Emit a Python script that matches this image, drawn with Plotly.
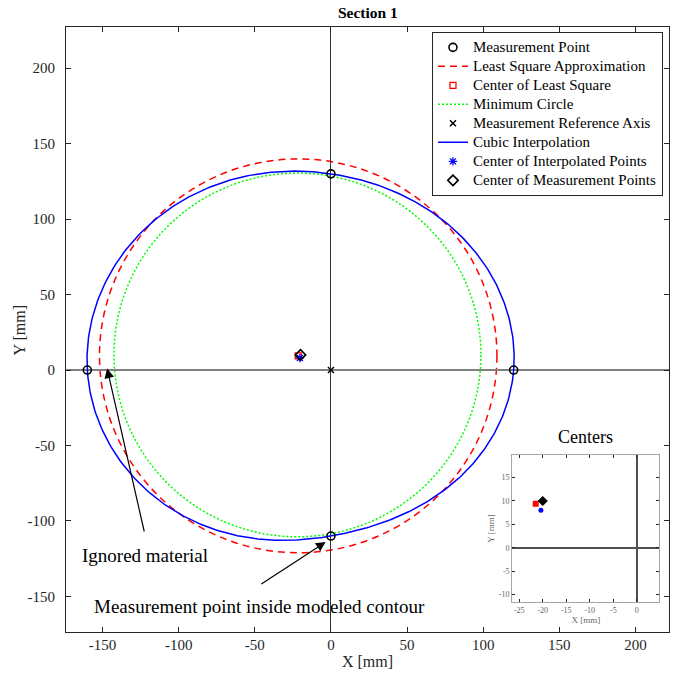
import numpy as np
import plotly.graph_objects as go

# ---------------- data ----------------
meas_x = [120, 0, -160, 0]          # measurement points [mm]
meas_y = [0, 130, 0, -110]

lsq_center_x = [-21.5]              # center of least square
lsq_center_y = [9.4]
lsq_radius = [130.5]

min_center_x = [-22.0]              # minimum circle
min_center_y = [10.0]
min_radius = [120.5]

interp_center_x = [-20.4]           # center of interpolated points
interp_center_y = [8.0]

meas_center_x = [-20.0]             # center of measurement points
meas_center_y = [10.0]

ref_x = [0]                          # measurement reference axis
ref_y = [0]

x_ticks = [-150, -100, -50, 0, 50, 100, 150, 200]
x_tick_labels = ["-150", "-100", "-50", "0", "50", "100", "150", "200"]
y_ticks = [-150, -100, -50, 0, 50, 100, 150, 200]
y_tick_labels = ["-150", "-100", "-50", "0", "50", "100", "150", "200"]
inset_x_ticks = [-25, -20, -15, -10, -5, 0]
inset_x_labels = ["-25", "-20", "-15", "-10", "-5", "0"]
inset_y_ticks = [-10, -5, 0, 5, 10, 15]
inset_y_labels = ["-10", "-5", "0", "5", "10", "15"]

# ------- cubic interpolation (periodic cubic spline of radius vs angle) -------
th = np.mod(np.arctan2(meas_y, meas_x), 2 * np.pi)
rr = np.hypot(meas_x, meas_y)
o = np.argsort(th)
th, rr = th[o], rr[o]
n = len(th)
h = np.diff(np.append(th, th[0] + 2 * np.pi))
A = np.zeros((n, n))
b = np.zeros(n)
for i in range(n):
    hp, hn = h[i - 1], h[i]
    A[i, (i - 1) % n] += hp
    A[i, i] += 2 * (hp + hn)
    A[i, (i + 1) % n] += hn
    b[i] = 6 * ((rr[(i + 1) % n] - rr[i]) / hn - (rr[i] - rr[i - 1]) / hp)
M = np.linalg.solve(A, b)
cx, cy = [], []
for i in range(n):
    hi = h[i]
    s = np.linspace(0, hi, 120, endpoint=False)
    j = (i + 1) % n
    S = (M[i] * (hi - s) ** 3 / (6 * hi) + M[j] * s ** 3 / (6 * hi)
         + (rr[i] / hi - M[i] * hi / 6) * (hi - s)
         + (rr[j] / hi - M[j] * hi / 6) * s)
    t = th[i] + s
    cx.extend(S * np.cos(t))
    cy.extend(S * np.sin(t))
cx.append(cx[0])
cy.append(cy[0])

FONT = "Liberation Serif, Times New Roman, serif"
DARK = "#262626"


def lg(name):
    # legend label drawn at 15px while the row spacing stays compact
    return '<span style="font-size:15px">' + name + "</span>"


fig = go.Figure()

fig.add_trace(go.Scatter(x=cx, y=cy, mode="lines", name="Cubic Interpolation",
                         line=dict(color="#0000FF", width=1.5), showlegend=False))
fig.add_trace(go.Scatter(x=meas_x, y=meas_y, mode="markers", name=lg("Measurement Point"),
                         marker=dict(symbol="circle-open", size=8, color="black",
                                     line=dict(width=1.6, color="black"))))
fig.add_trace(go.Scatter(x=[None], y=[None], mode="lines", name=lg("Least Square Approximation"),
                         line=dict(color="#FF0000", width=1.5, dash="7px,5px")))
fig.add_trace(go.Scatter(x=lsq_center_x, y=lsq_center_y, mode="markers", name=lg("Center of Least Square"),
                         marker=dict(symbol="square-open", size=6, color="#FF0000",
                                     line=dict(width=1.3, color="#FF0000"))))
fig.add_trace(go.Scatter(x=[None], y=[None], mode="lines", name=lg("Minimum Circle"),
                         line=dict(color="#00FF00", width=1.5, dash="2px,2px")))
fig.add_trace(go.Scatter(x=ref_x, y=ref_y, mode="markers", name=lg("Measurement Reference Axis"),
                         marker=dict(symbol="x-thin-open", size=6, color="black",
                                     line=dict(width=1.5, color="black"))))
fig.add_trace(go.Scatter(x=[None], y=[None], mode="lines", name=lg("Cubic Interpolation"),
                         line=dict(color="#0000FF", width=1.5)))
fig.add_trace(go.Scatter(x=interp_center_x, y=interp_center_y, mode="markers",
                         name=lg("Center of Interpolated Points"),
                         marker=dict(symbol="asterisk-open", size=7, color="#0000FF",
                                     line=dict(width=1.3, color="#0000FF"))))
fig.add_trace(go.Scatter(x=meas_center_x, y=meas_center_y, mode="markers",
                         name=lg("Center of Measurement Points"),
                         marker=dict(symbol="diamond-open", size=8, color="black",
                                     line=dict(width=1.6, color="black"))))

# circles as shapes
fig.add_shape(type="circle", xref="x", yref="y", layer="below",
              x0=min_center_x[0] - min_radius[0], x1=min_center_x[0] + min_radius[0],
              y0=min_center_y[0] - min_radius[0], y1=min_center_y[0] + min_radius[0],
              line=dict(color="#00FF00", width=1.5, dash="2px,2px"))
fig.add_shape(type="circle", xref="x", yref="y", layer="below",
              x0=lsq_center_x[0] - lsq_radius[0], x1=lsq_center_x[0] + lsq_radius[0],
              y0=lsq_center_y[0] - lsq_radius[0], y1=lsq_center_y[0] + lsq_radius[0],
              line=dict(color="#FF0000", width=1.5, dash="7px,5px"))

# inset traces
fig.add_trace(go.Scatter(x=lsq_center_x, y=lsq_center_y, mode="markers", xaxis="x2", yaxis="y2",
                         showlegend=False, marker=dict(symbol="square", size=6, color="#FF0000")))
fig.add_trace(go.Scatter(x=interp_center_x, y=interp_center_y, mode="markers", xaxis="x2", yaxis="y2",
                         showlegend=False, marker=dict(symbol="circle", size=5, color="#0000FF")))
fig.add_trace(go.Scatter(x=meas_center_x, y=meas_center_y, mode="markers", xaxis="x2", yaxis="y2",
                         showlegend=False, marker=dict(symbol="diamond", size=7, color="black",
                                                       line=dict(width=1, color="black"))))

# annotations
ann = [
    dict(x=-147.0, y=1.0, ax=-122.4, ay=-108.0, xref="x", yref="y", axref="x", ayref="y",
         text="", showarrow=True, arrowhead=2, arrowsize=1.6, arrowwidth=1.2, arrowcolor="black"),
    dict(x=-3.5, y=-114.0, ax=-46.7, ay=-142.5, xref="x", yref="y", axref="x", ayref="y",
         text="", showarrow=True, arrowhead=2, arrowsize=1.6, arrowwidth=1.2, arrowcolor="black"),
    dict(x=-122.4, y=-122.6, xref="x", yref="y", text="Ignored material", showarrow=False,
         font=dict(family=FONT, size=19, color="black")),
    dict(x=-47.0, y=-157.0, xref="x", yref="y", text="Measurement point inside modeled contour",
         showarrow=False, font=dict(family=FONT, size=19, color="black")),
    dict(x=0.5, y=1.0, xref="x2 domain", yref="y2 domain", yanchor="bottom", yshift=6,
         text="Centers", showarrow=False, font=dict(family=FONT, size=18, color="black")),
    dict(x=-0.0763, y=0.5, xref="paper", yref="paper", xanchor="center", yanchor="middle",
         text="Y [mm]", textangle=-90, showarrow=False, font=dict(family=FONT, size=16, color=DARK)),
]

fig.update_layout(
    width=675, height=673,
    margin=dict(l=66, r=6, t=27, b=41, autoexpand=False),
    paper_bgcolor="white", plot_bgcolor="white",
    font=dict(family=FONT, size=14, color=DARK),
    title=dict(text="<b>Section 1</b>", x=0.545, xanchor="center", y=0.981, yanchor="middle",
               font=dict(family=FONT, size=15.5, color="black")),
    legend=dict(x=0.99, xanchor="right", y=0.992, yanchor="top",
                bgcolor="white", bordercolor=DARK, borderwidth=1,
                font=dict(family=FONT, size=11.2, color="black"), tracegroupgap=0),
    annotations=ann,
    xaxis=dict(domain=[0, 1], range=[-174, 222], tickvals=x_ticks, ticktext=x_tick_labels,
               ticks="inside", ticklen=5, automargin=False, ticklabelstandoff=-1,
               tickcolor=DARK, showline=True, linecolor=DARK, linewidth=1, mirror="ticks",
               showgrid=False, zeroline=True, zerolinecolor="#333333", zerolinewidth=1.3,
               tickfont=dict(family=FONT, size=15, color=DARK),
               title=dict(text="X [mm]", standoff=3, font=dict(family=FONT, size=16, color=DARK))),
    yaxis=dict(domain=[0, 1], range=[-173.6, 227.3], tickvals=y_ticks, ticktext=y_tick_labels,
               ticks="inside", ticklen=5, automargin=False, ticklabelstandoff=7,
               tickcolor=DARK, showline=True, linecolor=DARK, linewidth=1, mirror="ticks",
               showgrid=False, zeroline=True, zerolinecolor="#808080", zerolinewidth=2,
               tickfont=dict(family=FONT, size=15, color=DARK)),
    xaxis2=dict(domain=[0.740, 0.984], anchor="y2", range=[-26.5, 4.8], tickvals=inset_x_ticks,
                ticktext=inset_x_labels, automargin=False,
                ticks="inside", ticklen=3, tickcolor=DARK, showline=True, linecolor="#a6a6a6",
                linewidth=1, mirror="ticks", showgrid=False, zeroline=True,
                zerolinecolor="#505050", zerolinewidth=2,
                tickfont=dict(family=FONT, size=8, color="#666666"),
                title=dict(text="X [mm]", standoff=2, font=dict(family=FONT, size=9, color="#666666"))),
    yaxis2=dict(domain=[0.049, 0.293], anchor="x2", range=[-11.7, 19.9], tickvals=inset_y_ticks,
                ticktext=inset_y_labels, automargin=False,
                ticks="inside", ticklen=3, tickcolor=DARK, showline=True, linecolor="#a6a6a6",
                linewidth=1, mirror="ticks", showgrid=False, zeroline=True,
                zerolinecolor="#505050", zerolinewidth=2,
                tickfont=dict(family=FONT, size=8, color="#666666"),
                title=dict(text="Y [mm]", standoff=2, font=dict(family=FONT, size=9, color="#666666"))),
)

fig.write_html("out.html", config={"displayModeBar": False},
               post_script="document.body.style.margin='0';")
